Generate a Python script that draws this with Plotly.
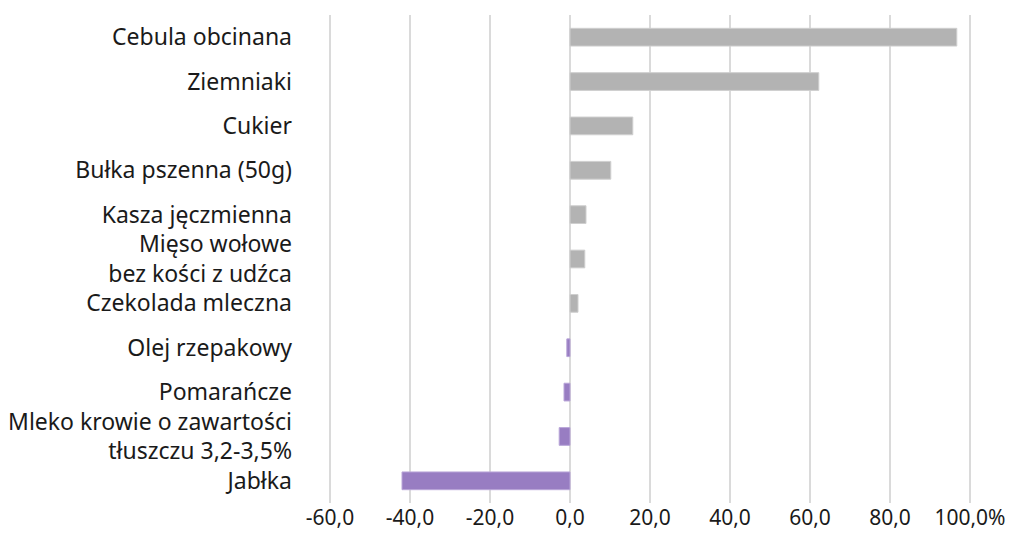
import plotly.graph_objects as go

categories = [
    "Cebula obcinana",
    "Ziemniaki",
    "Cukier",
    "Bułka pszenna (50g)",
    "Kasza jęczmienna",
    "Mięso wołowe<br>bez kości z udźca",
    "Czekolada mleczna",
    "Olej rzepakowy",
    "Pomarańcze",
    "Mleko krowie o zawartości<br>tłuszczu 3,2-3,5%",
    "Jabłka",
]
values = [96.7, 62.2, 15.7, 10.2, 4.0, 3.7, 2.0, -0.8, -1.5, -2.7, -42.0]
tick_vals = [-60, -40, -20, 0, 20, 40, 60, 80, 100]
tick_text = ["-60,0", "-40,0", "-20,0", "0,0", "20,0", "40,0", "60,0", "80,0", "100,0%"]

pos_color = "#b3b3b3"
neg_color = "#987dc2"
colors = [pos_color if v >= 0 else neg_color for v in values]
line_colors = ["#cfcfcf" if v >= 0 else "#b9a6d8" for v in values]

fig = go.Figure(go.Bar(
    y=categories,
    x=values,
    orientation="h",
    marker=dict(color=colors, line=dict(color=line_colors, width=1)),
    width=0.4,
    hoverinfo="x+y",
))

font_family = "Noto Sans, Open Sans, sans-serif"
fig.update_layout(
    width=1024,
    height=533,
    margin=dict(l=320, r=60, t=7, b=38, autoexpand=False),
    paper_bgcolor="white",
    plot_bgcolor="white",
    showlegend=False,
    font=dict(family=font_family, size=23, color="#1a1a1a"),
    xaxis=dict(
        range=[-60.5, 100.5],
        tickvals=tick_vals,
        ticktext=tick_text,
        showgrid=True,
        gridcolor="#dadada",
        gridwidth=2,
        zeroline=False,
        showline=False,
        ticks="",
        automargin=False,
        tickfont=dict(size=21, color="#1a1a1a"),
    ),
    yaxis=dict(
        categoryorder="array",
        categoryarray=categories,
        autorange="reversed",
        showgrid=False,
        zeroline=False,
        showline=False,
        ticks="",
        automargin=False,
        ticklabelstandoff=35,
        tickfont=dict(size=23, color="#1a1a1a"),
    ),
)

fig.write_html("out.html")
